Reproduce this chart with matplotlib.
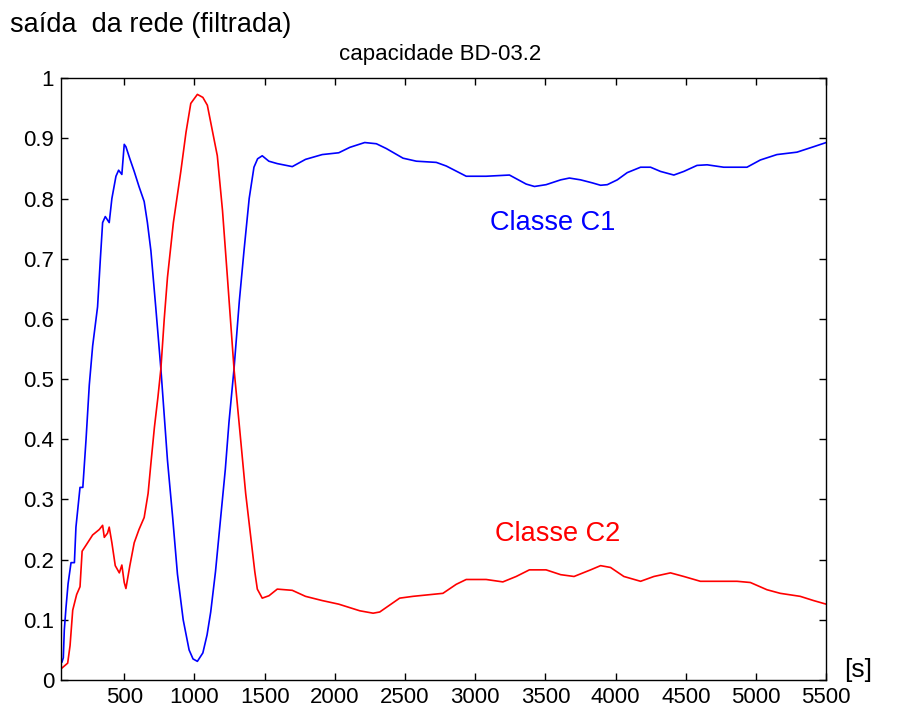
import matplotlib
matplotlib.use("Agg")
import matplotlib.pyplot as plt

plt.rcParams['font.family'] = ['Liberation Sans', 'DejaVu Sans']

c1_x = [57, 66, 73, 85, 100, 121, 145, 156, 185, 205, 228, 251, 275, 310, 330, 346, 365, 393, 412,
        441, 460, 483, 500, 512, 540, 571, 605, 642, 665, 690, 725, 761, 808, 845, 879, 920, 962,
        990, 1021, 1060, 1090, 1116, 1150, 1187, 1220, 1246, 1282, 1320, 1353, 1390, 1424, 1450,
        1483, 1530, 1590, 1697, 1791, 1910, 2028,
        2107, 2213, 2296, 2367, 2486, 2581, 2723, 2794, 2936, 3078, 3244, 3363, 3422, 3505, 3609,
        3671, 3751, 3834, 3893, 3941, 4012, 4083, 4178, 4249, 4320, 4415, 4486, 4580, 4652, 4770,
        4936, 5031, 5149, 5292, 5410, 5500]
c1_y = [0.03, 0.037, 0.083, 0.12, 0.16, 0.195, 0.195, 0.254, 0.32, 0.32, 0.40, 0.49, 0.555, 0.62,
        0.70, 0.76, 0.77, 0.76, 0.80, 0.837, 0.847, 0.84, 0.89, 0.886, 0.866, 0.845, 0.82, 0.795,
        0.76, 0.713, 0.618, 0.517, 0.365, 0.27, 0.176, 0.10, 0.05, 0.035, 0.031, 0.045, 0.075,
        0.113, 0.18, 0.27, 0.35, 0.428, 0.517, 0.63, 0.713, 0.80, 0.852, 0.866, 0.871, 0.862,
        0.858, 0.853, 0.865, 0.873, 0.876,
        0.885, 0.893, 0.891, 0.883, 0.867, 0.862, 0.86, 0.854, 0.837, 0.837, 0.839, 0.824, 0.82,
        0.823, 0.831, 0.834, 0.831, 0.826, 0.822, 0.823, 0.831, 0.843, 0.852, 0.852, 0.845, 0.839,
        0.845, 0.855, 0.856, 0.852, 0.852, 0.864, 0.873, 0.877, 0.886, 0.893]

c2_x = [57, 97, 114, 133, 161, 185, 200, 228, 275, 322, 346, 358, 381, 393, 412, 436, 465, 483, 500,
        512, 540, 571, 605, 642, 670, 690, 715, 740, 761, 785, 808, 850, 903, 940, 974, 1021, 1060,
        1092, 1130, 1163, 1200, 1235, 1282, 1329, 1365, 1400, 1430, 1448, 1483, 1531, 1590, 1697,
        1791, 1910, 2028, 2178,
        2273, 2320, 2462, 2557, 2770, 2865, 2936, 3078, 3197, 3292, 3386, 3505, 3609, 3704, 3822,
        3893, 3964, 4059, 4178, 4273, 4391, 4486, 4604, 4747, 4865, 4960, 5078, 5173, 5315, 5410,
        5500]
c2_y = [0.02, 0.028, 0.057, 0.116, 0.142, 0.155, 0.214, 0.224, 0.241, 0.25, 0.257, 0.237, 0.244,
        0.254, 0.228, 0.19, 0.178, 0.191, 0.162, 0.152, 0.19, 0.228, 0.25, 0.27, 0.31, 0.36, 0.42,
        0.47, 0.517, 0.60, 0.669, 0.76, 0.845, 0.91, 0.958, 0.973, 0.968, 0.955, 0.91, 0.871, 0.78,
        0.669, 0.517, 0.40, 0.31, 0.24, 0.18, 0.151, 0.136, 0.14, 0.151, 0.149,
        0.139, 0.132, 0.126, 0.115,
        0.111, 0.113, 0.136, 0.139, 0.144, 0.159, 0.167, 0.167, 0.163, 0.172, 0.183, 0.183, 0.175,
        0.172, 0.183, 0.19, 0.187, 0.172, 0.164, 0.172, 0.178, 0.172, 0.164, 0.164, 0.164, 0.162,
        0.15, 0.144, 0.139, 0.132, 0.126]

x_ticks = [500, 1000, 1500, 2000, 2500, 3000, 3500, 4000, 4500, 5000, 5500]
y_ticks = [0, 0.1, 0.2, 0.3, 0.4, 0.5, 0.6, 0.7, 0.8, 0.9, 1]
y_labels = ['0', '0.1', '0.2', '0.3', '0.4', '0.5', '0.6', '0.7', '0.8', '0.9', '1']

fig = plt.figure(figsize=(8.98, 7.11), dpi=100)
ax = fig.add_axes([0.068, 0.0436, 0.852, 0.8465])

ax.plot(c1_x, c1_y, color='#0000ff', lw=1.2)
ax.plot(c2_x, c2_y, color='#ff0000', lw=1.2)

ax.set_xlim(50, 5500)
ax.set_ylim(0, 1)
ax.set_xticks(x_ticks)
ax.set_xticklabels([str(t) for t in x_ticks])
ax.set_yticks(y_ticks)
ax.set_yticklabels(y_labels)
ax.tick_params(direction='in', length=5, width=1, top=True, right=True,
               labelsize=16, pad=5)
for s in ax.spines.values():
    s.set_linewidth(1.0)

ax.text(3107, 0.76, 'Classe C1', color='#0000ff', fontsize=19.5, va='center', ha='left')
ax.text(3143, 0.2425, 'Classe C2', color='#ff0000', fontsize=19.5, va='center', ha='left')

fig.text(0.011, 0.965, 'saída  da rede (filtrada)', fontsize=19.5, va='center', ha='left')
fig.text(0.49, 0.924, 'capacidade BD-03.2', fontsize=16, va='center', ha='center')
fig.text(0.94, 0.058, '[s]', fontsize=19, va='center', ha='left')

fig.savefig('out.png', dpi=100)
